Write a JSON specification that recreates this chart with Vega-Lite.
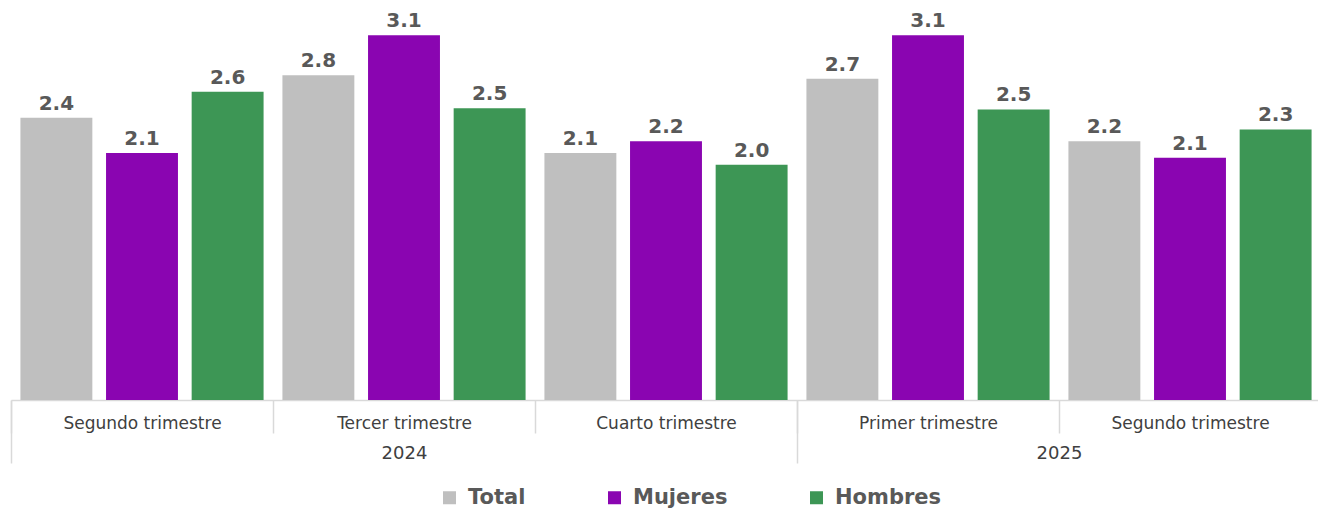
{
  "$schema": "https://vega.github.io/schema/vega-lite/v6.json",
  "background": "white",
  "padding": {"left": 10, "top": 0, "right": 0, "bottom": 0},
  "width": {"step": 262, "for": "position"},
  "height": 400,
  "data": {
    "values": [
      {"periodo": "2024|Segundo trimestre", "serie": "Total", "valor": 2.4},
      {"periodo": "2024|Segundo trimestre", "serie": "Mujeres", "valor": 2.1},
      {"periodo": "2024|Segundo trimestre", "serie": "Hombres", "valor": 2.62},
      {"periodo": "2024|Tercer trimestre", "serie": "Total", "valor": 2.76},
      {"periodo": "2024|Tercer trimestre", "serie": "Mujeres", "valor": 3.1},
      {"periodo": "2024|Tercer trimestre", "serie": "Hombres", "valor": 2.48},
      {"periodo": "2024|Cuarto trimestre", "serie": "Total", "valor": 2.1},
      {"periodo": "2024|Cuarto trimestre", "serie": "Mujeres", "valor": 2.2},
      {"periodo": "2024|Cuarto trimestre", "serie": "Hombres", "valor": 2.0},
      {"periodo": "2025|Primer trimestre", "serie": "Total", "valor": 2.73},
      {"periodo": "2025|Primer trimestre", "serie": "Mujeres", "valor": 3.1},
      {"periodo": "2025|Primer trimestre", "serie": "Hombres", "valor": 2.47},
      {"periodo": "2025|Segundo trimestre", "serie": "Total", "valor": 2.2},
      {"periodo": "2025|Segundo trimestre", "serie": "Mujeres", "valor": 2.06},
      {"periodo": "2025|Segundo trimestre", "serie": "Hombres", "valor": 2.3}
    ]
  },
  "encoding": {
    "x": {"field": "periodo", "type": "nominal", "sort": null, "scale": {"paddingInner": 0, "paddingOuter": 0}},
    "xOffset": {"field": "serie", "type": "nominal", "sort": ["Total", "Mujeres", "Hombres"], "scale": {"paddingInner": 0.16, "paddingOuter": 0.11}},
    "y": {"field": "valor", "type": "quantitative", "scale": {"domain": [0, 3.4], "nice": false}, "axis": null}
  },
  "layer": [
    {
      "mark": {"type": "bar"},
      "encoding": {
        "x": {"field": "periodo", "type": "nominal", "sort": null,
          "axis": {"orient": "bottom", "title": null, "labelAngle": 0,
            "labelExpr": "split(datum.value, '|')[1]",
            "labelFont": "DejaVu Sans", "labelFontSize": 17, "labelColor": "#404040",
            "labelPadding": -18, "labelLimit": 0,
            "tickBand": "extent", "tickSize": 33, "tickColor": "#d9d9d9", "tickWidth": 1.5,
            "domainColor": "#d9d9d9", "domainWidth": 1.5, "grid": false}},
        "color": {"field": "serie", "type": "nominal", "sort": ["Total", "Mujeres", "Hombres"],
          "scale": {"domain": ["Total", "Mujeres", "Hombres"], "range": ["#bfbfbf", "#8a05b1", "#3d9655"]},
          "legend": {"title": null, "orient": "none", "direction": "horizontal", "legendX": 428, "legendY": 487,
            "symbolType": "square", "symbolSize": 169, "symbolStrokeWidth": 0,
            "labelFont": "DejaVu Sans", "labelFontSize": 21, "labelFontWeight": "bold", "labelColor": "#595959",
            "labelOffset": 8, "columnPadding": 78}}
      }
    },
    {
      "mark": {"type": "text", "baseline": "alphabetic", "dy": -8, "font": "DejaVu Sans", "fontSize": 20, "fontWeight": "bold", "color": "#595959"},
      "encoding": {
        "x": {"field": "periodo", "type": "nominal", "sort": null,
          "axis": {"orient": "bottom", "title": null, "labelAngle": 0, "domain": false, "grid": false,
            "labelExpr": "datum.value == '2024|Tercer trimestre' ? '2024' : (datum.value == '2025|Primer trimestre' ? '2025' : '')",
            "labelOffset": {"condition": {"test": "datum.value == '2025|Primer trimestre'", "value": 131}, "value": 0},
            "labelFont": "DejaVu Sans", "labelFontSize": 18, "labelColor": "#404040",
            "labelPadding": -19, "labelLimit": 0,
            "tickBand": "extent", "tickSize": 63, "tickColor": "#d9d9d9", "tickWidth": 1.5,
            "tickOpacity": {"condition": {"test": "datum.value == '2024|Cuarto trimestre' || datum.index < 0", "value": 1}, "value": 0}}},
        "text": {"field": "valor", "type": "quantitative", "format": ".1f"}
      }
    }
  ],
  "resolve": {"axis": {"x": "independent"}},
  "config": {"view": {"stroke": null}}
}
